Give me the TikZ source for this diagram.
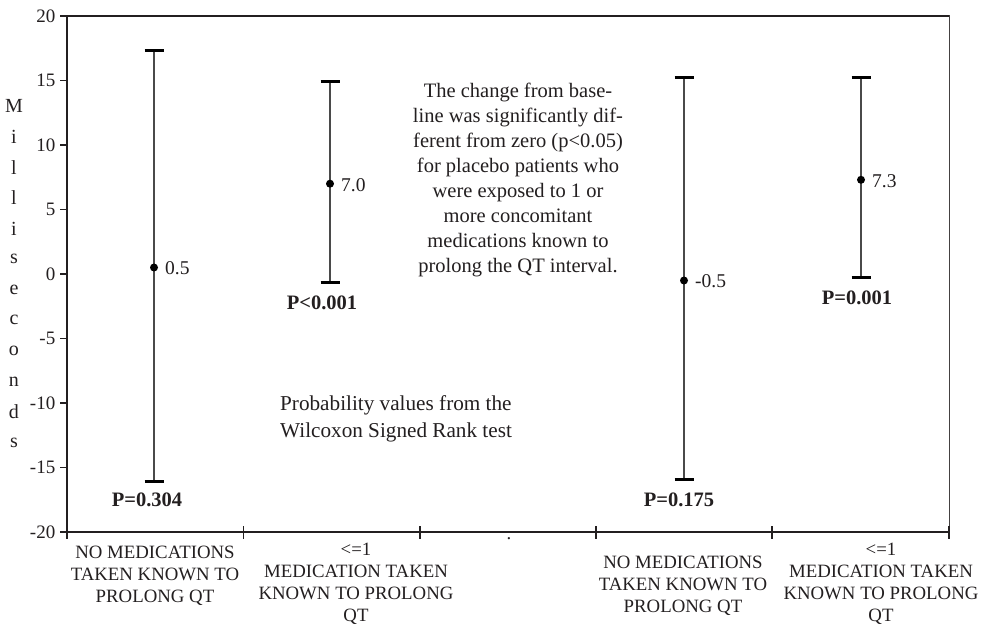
\documentclass[tikz,border=0pt]{standalone}
\usepackage{fontspec}
\setmainfont{Liberation Serif}
\definecolor{ink}{HTML}{231F20}
\definecolor{barline}{HTML}{4A4A4A}
\tikzset{
  axisline/.style={draw=ink, line width=1.8pt},
  frameline/.style={draw=ink!85, line width=1pt},
  tickline/.style={draw=ink, line width=1.3pt},
  ticklab/.style={anchor=east, inner sep=0pt, text=ink, font=\fontsize{19}{22}\selectfont},
  catlab/.style={align=center, inner sep=0pt, text=ink, font=\fontsize{18.8}{22}\selectfont},
  errbar/.style={draw=barline, line width=1.3pt},
  errcap/.style={draw=black, line width=3pt},
  meandot/.style={circle, fill=black, inner sep=0pt, minimum size=8pt},
  vallab/.style={anchor=west, inner sep=0pt, text=ink, font=\fontsize{19.5}{22}\selectfont},
  plab/.style={inner sep=0pt, text=ink, font=\bfseries\fontsize{20.5}{22}\selectfont},
  note/.style={align=center, inner sep=0pt, text=ink, font=\fontsize{20.5}{25}\selectfont},
  ylet/.style={inner sep=0pt, text=ink, font=\fontsize{20}{22}\selectfont},
}
\begin{document}
\begin{tikzpicture}[x=1pt,y=-1pt]
\useasboundingbox[fill=white] (0,0) rectangle (989,628);
% frame corners
\coordinate (tl) at (67,16);
\coordinate (tr) at (949,16);
\coordinate (bl) at (67,532);
\coordinate (br) at (949,532);
\draw[frameline] (tl) -- (tr) -- (br);
\draw[axisline] (tr) -- (tl) -- (bl) -- (br);
% y ticks and labels
\foreach \v/\yy in {20/16,15/80.5,10/145,5/209.5,0/274,-5/338.5,-10/403,-15/467.5,-20/532}{
  \coordinate (yt\v) at (60,\yy);
  \coordinate (ya\v) at (67,\yy);
  \draw[tickline] (yt\v) -- (ya\v);
  \node[ticklab] (yl\v) at (55.5,\yy) {\v};
}
% x ticks
\foreach \i/\xx in {0/67,1/243.5,2/420,3/596,4/772,5/949}{
  \coordinate (xa\i) at (\xx,526);
  \coordinate (xb\i) at (\xx,539);
  \draw[tickline] (xa\i) -- (xb\i);
}
% y label
\foreach \ch [count=\k from 0] in {M,i,l,l,i,s,e,c,o,n,d,s}{
  \node[ylet] (ylab\k) at (14,{106+\k*30.6}) {\ch};
}
% category labels
\node[catlab] (cat1) at (155,575.5) {NO MEDICATIONS\\TAKEN KNOWN TO\\PROLONG QT};
\node[catlab] (cat2) at (356,583.5) {<=1\\MEDICATION TAKEN\\KNOWN TO PROLONG\\QT};
\node[catlab] (dotmark) at (509,539) {.};
\node[catlab] (cat3) at (683,586) {NO MEDICATIONS\\TAKEN KNOWN TO\\PROLONG QT};
\node[catlab] (cat4) at (881,584) {<=1\\MEDICATION TAKEN\\KNOWN TO PROLONG\\QT};
% error bars
\foreach \n/\xx/\top/\bot/\m/\val in {1/154/51/481.5/267.5/0.5, 2/330/82/283/183.7/7.0, 3/684/78/480/280.5/-0.5, 4/861/78/278/179.8/7.3}{
  \coordinate (t\n) at (\xx,\top);
  \coordinate (b\n) at (\xx,\bot);
  \coordinate (tL\n) at (\xx-9.5,\top);
  \coordinate (tR\n) at (\xx+9.5,\top);
  \coordinate (bL\n) at (\xx-9.5,\bot);
  \coordinate (bR\n) at (\xx+9.5,\bot);
  \draw[errbar] (t\n) -- (b\n);
  \draw[errcap] (tL\n) -- (tR\n);
  \draw[errcap] (bL\n) -- (bR\n);
  \node[meandot] (m\n) at (\xx,\m) {};
  \node[vallab] (v\n) at (\xx+11,\m+1) {\val};
}
% p values
\node[plab] (p1) at (147,500) {P=0.304};
\node[plab] (p2) at (322,303) {P<0.001};
\node[plab] (p3) at (679,500) {P=0.175};
\node[plab] (p4) at (857,298) {P=0.001};
% notes
\node[note] (note1) at (518,180) {The change from base-\\line was significantly dif-\\ferent from zero (p<0.05)\\for placebo patients who\\were exposed to 1 or\\more concomitant\\medications known to\\prolong the QT interval.};
\node[note, align=left, anchor=west, font=\fontsize{21.2}{27}\selectfont] (note2) at (280,418.5) {Probability values from the\\Wilcoxon Signed Rank test};
\end{tikzpicture}
\end{document}
